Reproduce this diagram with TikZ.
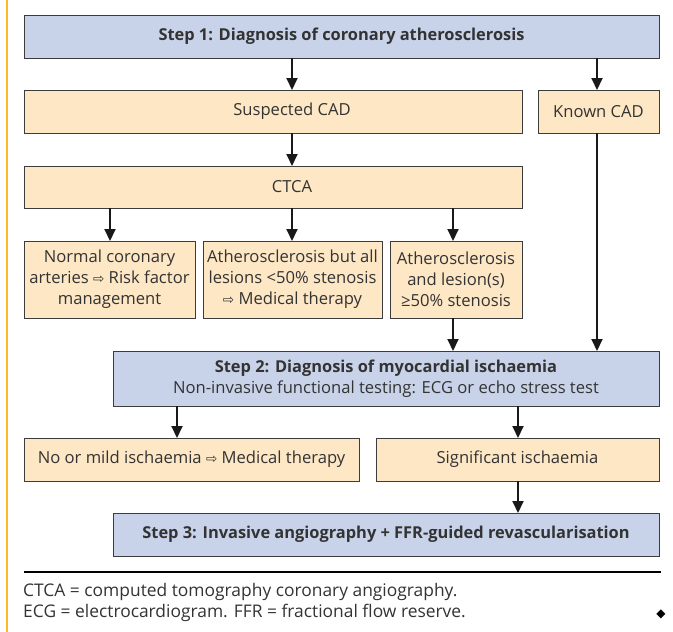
\documentclass[tikz,border=0pt]{standalone}
\usepackage{fontspec}
\setmainfont{Open Sans}
\newfontfamily\symf{DejaVu Sans}
\usetikzlibrary{arrows.meta,calc}
\definecolor{bluefill}{HTML}{C8D3EA}
\definecolor{orfill}{HTML}{FDE7C5}
\definecolor{bordc}{HTML}{3C3C3C}
\definecolor{txtc}{HTML}{333333}
\definecolor{yell}{HTML}{FDB92D}
\newcommand{\rarr}{{\symf\fontsize{13.5}{13.5}\selectfont ⇨}}
\newcommand{\bsz}{\fontsize{16.4}{21}\selectfont\bfseries}
\begin{document}
\begin{tikzpicture}[x=1pt,y=-1pt,
  box/.style={draw=bordc,line width=0.9pt,inner sep=0pt,outer sep=0pt,align=center,text=txtc,font=\fontsize{16.6}{21}\selectfont},
  bluebox/.style={box,fill=bluefill},
  orbox/.style={box,fill=orfill},
  lbl/.style={inner sep=0pt,align=center,text=txtc,font=\fontsize{16.6}{21}\selectfont},
  arr/.style={line width=2pt,draw=black!90,-{Triangle[length=12pt,width=11pt]}},
  foot/.style={anchor=west,inner sep=0pt,text=txtc,font=\fontsize{17.4}{21}\selectfont},
]
\useasboundingbox (0,0) rectangle (673,632);
% side line
\coordinate (yt) at (7,0);
\coordinate (yb) at (7,632);
\draw[yell,line width=2.5pt] (yt) -- (yb);

% arrow columns
\coordinate (cA) at (292,0);
\coordinate (cB) at (597,0);
\coordinate (cC) at (110,0);
\coordinate (cD) at (453,0);
\coordinate (cE) at (177,0);
\coordinate (cF) at (518,0);

% boxes
\node[bluebox,minimum width=635pt,minimum height=43pt] (s1) at (341.5,36.5) {\bsz Step 1: Diagnosis of coronary atherosclerosis};
\node[orbox,minimum width=498pt,minimum height=43pt] (susp) at (273,111.5) {};
\node[lbl] (suspt) at (susp.center -| cA) {Suspected CAD};
\node[orbox,minimum width=121pt,minimum height=43pt] (known) at (598.5,111.5) {Known CAD};
\node[orbox,minimum width=498pt,minimum height=42pt] (ctca) at (273,187) {};
\node[lbl] (ctcat) at (ctca.center -| cA) {CTCA};
\node[orbox,minimum width=171pt,minimum height=77pt] (n1) at (109.5,279.5) {Normal coronary\\arteries \rarr\ Risk factor\\management};
\node[orbox,minimum width=179pt,minimum height=77pt] (n2) at (292.5,279.5) {Atherosclerosis but all\\lesions <50\% stenosis\\\rarr\ Medical therapy};
\node[orbox,minimum width=132pt,minimum height=77pt] (n3) at (456,279.5) {Atherosclerosis\\and lesion(s)\\≥50\% stenosis};
\node[bluebox,minimum width=546pt,minimum height=55pt] (s2) at (386,378.5) {{\bsz Step 2: Diagnosis of myocardial ischaemia}\\Non-invasive functional testing: ECG or echo stress test};
\node[orbox,minimum width=335pt,minimum height=43pt] (nomild) at (191.5,459.5) {No or mild ischaemia \rarr\ Medical therapy};
\node[orbox,minimum width=283pt,minimum height=43pt] (sig) at (517.5,459.5) {Significant ischaemia};
\node[bluebox,minimum width=546pt,minimum height=43pt] (s3) at (386,534.5) {\bsz Step 3: Invasive angiography + FFR-guided revascularisation};

\draw[arr] (s1.south -| cA) -- (susp.north -| cA);
\draw[arr] (s1.south -| cB) -- (known.north -| cB);
\draw[arr] (susp.south -| cA) -- (ctca.north -| cA);
\draw[arr] (ctca.south -| cC) -- (n1.north -| cC);
\draw[arr] (ctca.south -| cA) -- (n2.north -| cA);
\draw[arr] (ctca.south -| cD) -- (n3.north -| cD);
\draw[arr] (n3.south -| cD) -- (s2.north -| cD);
\draw[arr] (known.south -| cB) -- (s2.north -| cB);
\draw[arr] (s2.south -| cE) -- (nomild.north -| cE);
\draw[arr] (s2.south -| cF) -- (sig.north -| cF);
\draw[arr] (sig.south -| cF) -- (s3.north -| cF);

% footnote
\coordinate (rl) at (24,572);
\coordinate (rr) at (661,572);
\draw[line width=2pt] (rl) -- (rr);
\node[foot] (f1) at (23,592) {CTCA = computed tomography coronary angiography.};
\node[foot] (f2) at (23,613) {ECG = electrocardiogram. FFR = fractional flow reserve.};
\node[inner sep=0pt,font=\symf\fontsize{12}{12}\selectfont] (dia) at (661,614) {◆};
\end{tikzpicture}
\end{document}
